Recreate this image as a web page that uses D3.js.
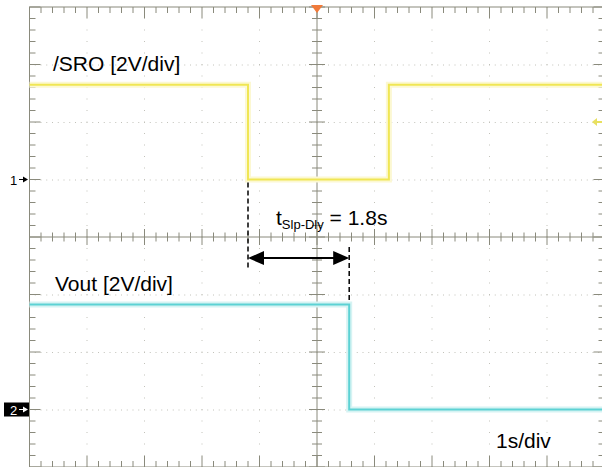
<!DOCTYPE html>
<html>
<head>
<meta charset="utf-8">
<script src="https://cdn.jsdelivr.net/npm/d3@7"></script>
<style>
  html, body { margin: 0; padding: 0; background: #fff; }
  svg { display: block; }
  text { font-family: "Liberation Sans", Arial, sans-serif; }
</style>
</head>
<body>
<div id="scope"></div>
<script>
// time axis in seconds (1s/div), trigger at 0
var sroTime  = [-5, -1.2, -1.2, 1.25, 1.25, 5];
var sroVolts = [3.3, 3.3, 0, 0, 3.3, 3.3];
var voutTime  = [-5, 0.56, 0.56, 5];
var voutVolts = [3.65, 3.65, 0, 0];

var voltsPerDiv = 2;
var ch1Offset = 1;    // ground marker position, divisions from centre
var ch2Offset = -3;
var trigLevel = 2;    // volts, channel 1
var delayFrom = -1.2, delayTo = 0.56;

var width = 602, height = 467;

var svg = d3.select('#scope').append('svg')
  .attr('width', width).attr('height', height);

var x = d3.scaleLinear().domain([-5, 5]).range([29.5, 604.5]);
var y = d3.scaleLinear().domain([-4, 4]).range([467, 7]);

var minorX = d3.range(-5, 5.001, 0.2);
var minorY = d3.range(-4, 4.001, 0.2);
var isMajor = function(v) { return Math.abs(v - Math.round(v)) < 1e-6; };

// dotted graticule
var grid = svg.append('g').attr('stroke', '#c2c2ba').attr('stroke-width', 1);
grid.selectAll('line.gx')
  .data(d3.range(-4, 5).filter(function(d) { return d !== 0; }))
  .enter().append('line')
  .attr('x1', function(d) { return x(d); }).attr('x2', function(d) { return x(d); })
  .attr('y1', y(4)).attr('y2', y(-4))
  .attr('stroke-dasharray', '1 10.5')
  .attr('stroke-dashoffset', 0.5);
grid.selectAll('line.gy')
  .data(d3.range(-3, 4).filter(function(d) { return d !== 0; }))
  .enter().append('line')
  .attr('y1', function(d) { return y(d) + 0.5; }).attr('y2', function(d) { return y(d) + 0.5; })
  .attr('x1', x(-5)).attr('x2', x(5))
  .attr('stroke-dasharray', '1 4.75')
  .attr('stroke-dashoffset', 0.5);

// border and centre axes with ticks
var axisCol = '#8a8a7c';
var frame = svg.append('g').attr('stroke', axisCol).attr('stroke-width', 1).attr('fill', 'none');
frame.append('rect')
  .attr('x', x(-5)).attr('y', y(4))
  .attr('width', x(5) - x(-5)).attr('height', y(-4) - y(4));
frame.append('line').attr('x1', x(0)).attr('x2', x(0)).attr('y1', y(4)).attr('y2', y(-4));
frame.append('line').attr('x1', x(-5)).attr('x2', x(5)).attr('y1', y(0)).attr('y2', y(0));

function tickLen(v) { return isMajor(v) ? 11 : 6; }

// top & bottom
frame.selectAll('line.tt').data(minorX).enter().append('line')
  .attr('x1', function(d) { return x(d); }).attr('x2', function(d) { return x(d); })
  .attr('y1', y(4)).attr('y2', function(d) { return y(4) + tickLen(d); });
frame.selectAll('line.tb').data(minorX).enter().append('line')
  .attr('x1', function(d) { return x(d); }).attr('x2', function(d) { return x(d); })
  .attr('y1', y(-4)).attr('y2', function(d) { return y(-4) - tickLen(d); });
// left & right
frame.selectAll('line.tl').data(minorY).enter().append('line')
  .attr('y1', function(d) { return y(d); }).attr('y2', function(d) { return y(d); })
  .attr('x1', x(-5)).attr('x2', function(d) { return x(-5) + tickLen(d); });
frame.selectAll('line.tr').data(minorY).enter().append('line')
  .attr('y1', function(d) { return y(d); }).attr('y2', function(d) { return y(d); })
  .attr('x1', x(5)).attr('x2', function(d) { return x(5) - tickLen(d); });
// centre crosses
frame.selectAll('line.cx').data(minorX).enter().append('line')
  .attr('x1', function(d) { return x(d); }).attr('x2', function(d) { return x(d); })
  .attr('y1', function(d) { return y(0) - (isMajor(d) ? 8 : 4.5); })
  .attr('y2', function(d) { return y(0) + (isMajor(d) ? 8 : 4.5); });
frame.selectAll('line.cy').data(minorY).enter().append('line')
  .attr('y1', function(d) { return y(d); }).attr('y2', function(d) { return y(d); })
  .attr('x1', function(d) { return x(0) - (isMajor(d) ? 8 : 5); })
  .attr('x2', function(d) { return x(0) + (isMajor(d) ? 8 : 5); });

// trigger position marker
svg.append('path')
  .attr('d', 'M' + (x(0) - 6) + ',' + (y(4) - 2) + 'L' + (x(0) + 6) + ',' + (y(4) - 2) + 'L' + x(0) + ',' + (y(4) + 6) + 'Z')
  .attr('fill', '#f07a3a');

// traces
function trace(times, volts, offset, glow, col) {
  var pts = times.map(function(t, i) { return [t, volts[i]]; });
  var line = d3.line()
    .x(function(d) { return x(d[0]); })
    .y(function(d) { return y(d[1] / voltsPerDiv + offset); });
  svg.append('path').datum(pts).attr('d', line)
    .attr('fill', 'none').attr('stroke', glow).attr('stroke-width', 6);
  svg.append('path').datum(pts).attr('d', line)
    .attr('fill', 'none').attr('stroke', col).attr('stroke-width', 2);
}
trace(sroTime, sroVolts, ch1Offset, '#fcf8d2', '#f0e654');
trace(voutTime, voutVolts, ch2Offset, '#d6f3f3', '#5cd2d4');

// trigger level arrow (right edge)
var ty = y(trigLevel / voltsPerDiv + ch1Offset);
svg.append('line').attr('x1', 594).attr('x2', 602).attr('y1', ty).attr('y2', ty)
  .attr('stroke', '#e8e060').attr('stroke-width', 2);
svg.append('path').attr('d', 'M592,' + ty + 'L597,' + (ty - 4) + 'L597,' + (ty + 4) + 'Z')
  .attr('fill', '#e8e060');

// channel ground markers
var g1 = y(ch1Offset), g2 = y(ch2Offset);
svg.append('text').attr('x', 10).attr('y', g1 + 5).attr('font-size', 13).attr('fill', '#000').text('1');
svg.append('line').attr('x1', 19).attr('x2', 26).attr('y1', g1).attr('y2', g1).attr('stroke', '#000');
svg.append('path').attr('d', 'M28,' + g1 + 'L23,' + (g1 - 3) + 'L23,' + (g1 + 3) + 'Z').attr('fill', '#000');

svg.append('rect').attr('x', 4).attr('y', g2 - 7).attr('width', 25).attr('height', 14).attr('fill', '#000');
svg.append('text').attr('x', 10).attr('y', g2 + 5).attr('font-size', 13).attr('fill', '#fff').text('2');
svg.append('line').attr('x1', 19).attr('x2', 26).attr('y1', g2).attr('y2', g2).attr('stroke', '#fff');
svg.append('path').attr('d', 'M28,' + g2 + 'L23,' + (g2 - 3) + 'L23,' + (g2 + 3) + 'Z').attr('fill', '#fff');

// delay annotation
var ann = svg.append('g').attr('stroke', '#000');
ann.append('line').attr('x1', x(delayFrom)).attr('x2', x(delayFrom))
  .attr('y1', y(ch1Offset) + 3).attr('y2', 270)
  .attr('stroke-width', 1.5).attr('stroke-dasharray', '5 3');
ann.append('line').attr('x1', x(delayTo)).attr('x2', x(delayTo))
  .attr('y1', 247).attr('y2', y(3.65 / voltsPerDiv + ch2Offset) - 2)
  .attr('stroke-width', 1.5).attr('stroke-dasharray', '5 3');
var ay = 258;
ann.append('line').attr('x1', x(delayFrom) + 10).attr('x2', x(delayTo) - 10)
  .attr('y1', ay).attr('y2', ay).attr('stroke-width', 2);
svg.append('path')
  .attr('d', 'M' + x(delayFrom) + ',' + ay + 'L' + (x(delayFrom) + 16) + ',' + (ay - 7) + 'L' + (x(delayFrom) + 16) + ',' + (ay + 7) + 'Z')
  .attr('fill', '#000');
svg.append('path')
  .attr('d', 'M' + x(delayTo) + ',' + ay + 'L' + (x(delayTo) - 16) + ',' + (ay - 7) + 'L' + (x(delayTo) - 16) + ',' + (ay + 7) + 'Z')
  .attr('fill', '#000');

// labels
svg.append('text').attr('x', 53).attr('y', 71).attr('font-size', 21).text('/SRO [2V/div]');
svg.append('text').attr('x', 55).attr('y', 291).attr('font-size', 21).text('Vout [2V/div]');
svg.append('text').attr('x', 496).attr('y', 448).attr('font-size', 21).text('1s/div');
var tl = svg.append('text').attr('x', 276).attr('y', 225).attr('font-size', 21);
tl.append('tspan').text('t');
tl.append('tspan').attr('font-size', 13).attr('dy', 4).text('Slp-Dly');
tl.append('tspan').attr('dy', -4).text(' = 1.8s');
</script>
</body>
</html>
